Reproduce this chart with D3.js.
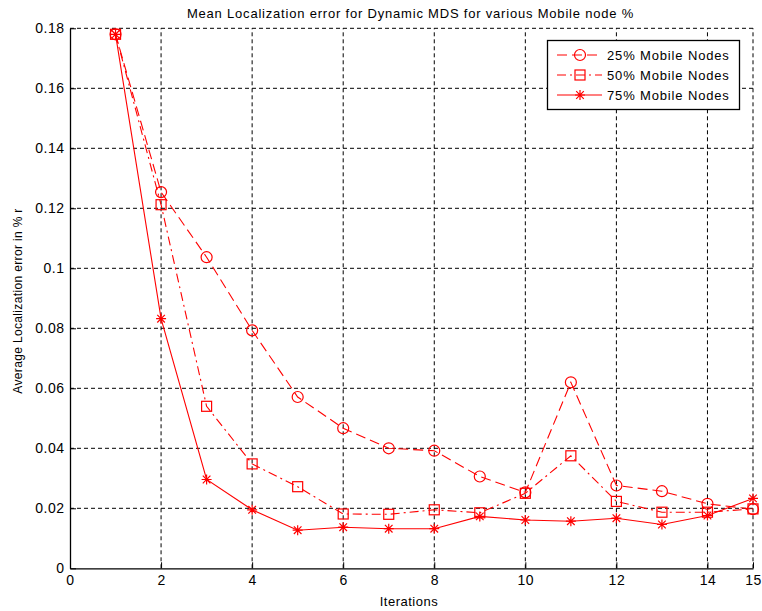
<!DOCTYPE html>
<html>
<head>
<meta charset="utf-8">
<script src="https://cdn.jsdelivr.net/npm/d3@7"></script>
<style>
  html, body { margin: 0; padding: 0; background: #fff; }
  svg { display: block; font-family: Arial, "Liberation Sans", Helvetica, sans-serif; }
</style>
</head>
<body>
<svg id="chart" width="762" height="611"></svg>
<script>
// Iteration numbers on the x axis
const iterations = [1, 2, 3, 4, 5, 6, 7, 8, 9, 10, 11, 12, 13, 14, 15];

// Mean localization error (fraction of r) per mobile-node percentage
const mobile25 = [0.178, 0.1254, 0.1037, 0.0793, 0.0571, 0.0467, 0.0400, 0.0392, 0.0306, 0.0253, 0.0620, 0.0276, 0.0257, 0.0215, 0.0197];
const mobile50 = [0.178, 0.1212, 0.0540, 0.0348, 0.0272, 0.0181, 0.0180, 0.0195, 0.0185, 0.0250, 0.0375, 0.0223, 0.0187, 0.0187, 0.0198];
const mobile75 = [0.178, 0.0832, 0.0296, 0.0195, 0.0127, 0.0137, 0.0132, 0.0132, 0.0173, 0.0161, 0.0157, 0.0167, 0.0146, 0.0176, 0.0233];

const seriesNames = ["25% Mobile Nodes", "50% Mobile Nodes", "75% Mobile Nodes"];
const xTicks = [0, 2, 4, 6, 8, 10, 12, 14, 15];
const yTicks = [0, 0.02, 0.04, 0.06, 0.08, 0.1, 0.12, 0.14, 0.16, 0.18];

const chartTitle = "Mean Localization error for Dynamic MDS for various Mobile node %";
const xTitle = "Iterations";
const yTitle = "Average Localization error in % r";

const svg = d3.select("#chart");
const plotLeft = 70, plotRight = 753, plotTop = 28.3, plotBottom = 568.3;

const x = d3.scaleLinear().domain([0, 15]).range([plotLeft, plotRight]);
const y = d3.scaleLinear().domain([0, 0.18]).range([plotBottom, plotTop]);

const red = "#ff0000";

// Dashed grid
const grid = svg.append("g");
grid.selectAll("line.gx").data(xTicks.filter(d => d > 0)).join("line")
  .attr("x1", d => x(d)).attr("x2", d => x(d))
  .attr("y1", plotBottom).attr("y2", plotTop)
  .attr("stroke", "#000").attr("stroke-width", 1).attr("stroke-dasharray", "4,3");
grid.selectAll("line.gy").data(yTicks.filter(d => d > 0)).join("line")
  .attr("x1", plotLeft).attr("x2", plotRight)
  .attr("y1", d => y(d)).attr("y2", d => y(d))
  .attr("stroke", "#000").attr("stroke-width", 1).attr("stroke-dasharray", "4,3");

// Axes with inward ticks
const xAxis = d3.axisBottom(x).tickValues(xTicks).tickFormat(d3.format("d")).tickSizeInner(-6).tickSizeOuter(0).tickPadding(7);
const yAxis = d3.axisLeft(y).tickValues(yTicks).tickFormat(d => d === 0 ? "0" : d3.format("~g")(d)).tickSizeInner(-6).tickSizeOuter(0).tickPadding(5.5);

const gx = svg.append("g").attr("transform", `translate(0,${plotBottom})`).call(xAxis);
const gy = svg.append("g").attr("transform", `translate(${plotLeft},0)`).call(yAxis);
[gx, gy].forEach(g => {
  g.selectAll("path.domain").attr("stroke", "#000").attr("stroke-width", 1.3);
  g.selectAll(".tick line").attr("stroke", "#000");
  g.selectAll(".tick text").attr("fill", "#000").attr("font-size", 14)
    .attr("letter-spacing", 0.5)
    .attr("font-family", "Arial, 'Liberation Sans', sans-serif");
});

// Titles
svg.append("text").attr("x", (plotLeft + plotRight) / 2 - 1).attr("y", 18)
  .attr("text-anchor", "middle").attr("font-size", 13).attr("letter-spacing", 0.8).text(chartTitle);
svg.append("text").attr("x", 409).attr("y", 606)
  .attr("text-anchor", "middle").attr("font-size", 13).attr("letter-spacing", 0.5).text(xTitle);
svg.append("text").attr("transform", "translate(22,301) rotate(-90)")
  .attr("text-anchor", "middle").attr("font-size", 12).attr("letter-spacing", 0.35).text(yTitle);

// Series
const series = [
  { name: seriesNames[0], values: mobile25, dash: "10,5", marker: "circle" },
  { name: seriesNames[1], values: mobile50, dash: "9,4,2,4", marker: "square" },
  { name: seriesNames[2], values: mobile75, dash: null, marker: "star" }
];

function drawMarker(g, type, cx, cy) {
  if (type === "circle") {
    g.append("circle").attr("cx", cx).attr("cy", cy).attr("r", 5.5)
      .attr("fill", "none").attr("stroke", red).attr("stroke-width", 1.2);
  } else if (type === "square") {
    g.append("rect").attr("x", cx - 5).attr("y", cy - 5).attr("width", 10).attr("height", 10)
      .attr("fill", "none").attr("stroke", red).attr("stroke-width", 1.2);
  } else {
    const s = 5, d = 3.8;
    const p = d3.path();
    p.moveTo(cx - s, cy); p.lineTo(cx + s, cy);
    p.moveTo(cx, cy - s); p.lineTo(cx, cy + s);
    p.moveTo(cx - d, cy - d); p.lineTo(cx + d, cy + d);
    p.moveTo(cx - d, cy + d); p.lineTo(cx + d, cy - d);
    g.append("path").attr("d", p.toString()).attr("fill", "none")
      .attr("stroke", red).attr("stroke-width", 1.2);
  }
}

const line = d3.line().x((d, i) => x(iterations[i])).y(d => y(d));

series.forEach(s => {
  const g = svg.append("g");
  g.append("path").datum(s.values).attr("d", line)
    .attr("fill", "none").attr("stroke", red).attr("stroke-width", 1.1)
    .attr("stroke-dasharray", s.dash);
  s.values.forEach((v, i) => drawMarker(g, s.marker, x(iterations[i]), y(v)));
});

// Legend
const lg = svg.append("g");
lg.append("rect").attr("x", 547.5).attr("y", 40.5).attr("width", 192).attr("height", 69)
  .attr("fill", "#fff").attr("stroke", "#000").attr("stroke-width", 1.3);
series.forEach((s, i) => {
  const ly = 55 + i * 20;
  lg.append("line").attr("x1", 557).attr("x2", 602).attr("y1", ly).attr("y2", ly)
    .attr("stroke", red).attr("stroke-width", 1.1).attr("stroke-dasharray", s.dash);
  drawMarker(lg, s.marker, 580, ly);
  lg.append("text").attr("x", 607).attr("y", ly + 5).attr("font-size", 13)
    .attr("letter-spacing", 0.85).text(s.name);
});
</script>
</body>
</html>
